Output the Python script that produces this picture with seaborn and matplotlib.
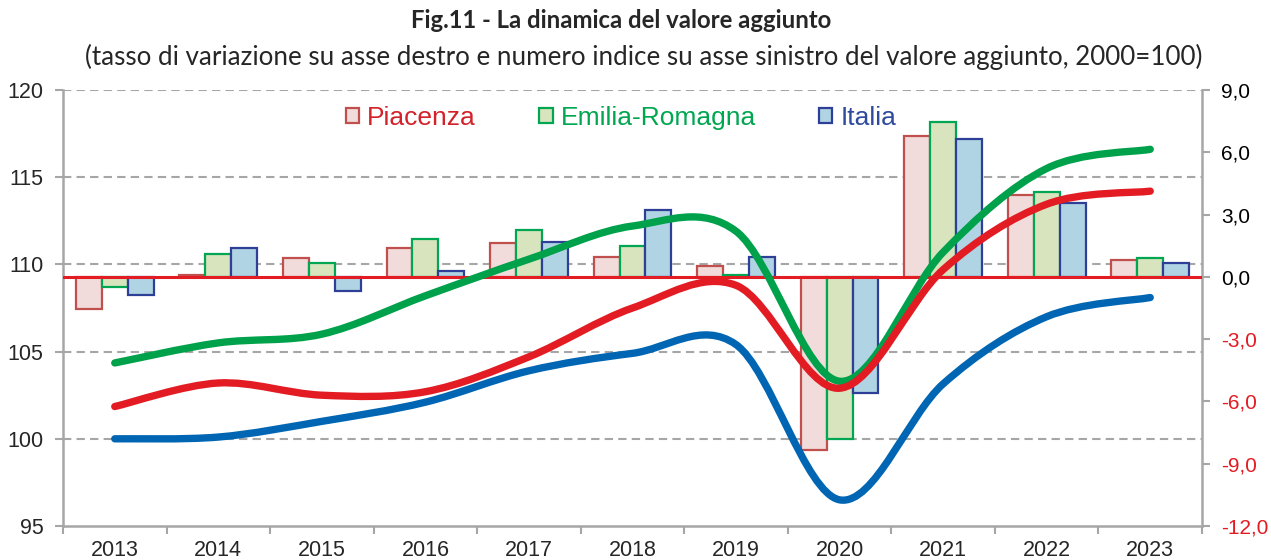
import numpy as np
import pandas as pd
import matplotlib
matplotlib.use('Agg')
import matplotlib.pyplot as plt
from matplotlib.path import Path
from matplotlib.patches import PathPatch, Patch
import seaborn as sns

anni = ['2013', '2014', '2015', '2016', '2017', '2018', '2019', '2020', '2021', '2022', '2023']
aree = ['Piacenza', 'Emilia-Romagna', 'Italia']

# tasso di variazione % (asse destro, barre)
var_piacenza = [-1.57, 0.10, 0.90, 1.40, 1.64, 0.96, 0.51, -8.35, 6.80, 3.92, 0.82]
var_emilia = [-0.47, 1.09, 0.66, 1.80, 2.28, 1.47, 0.10, -7.79, 7.48, 4.08, 0.93]
var_italia = [-0.87, 1.38, -0.70, 0.27, 1.70, 3.24, 0.94, -5.59, 6.63, 3.58, 0.69]

# numero indice 2000=100 (asse sinistro, linee)
ind_piacenza = [101.85, 103.2, 102.5, 102.7, 104.7, 107.5, 108.8, 102.9, 109.7, 113.45, 114.2]
ind_emilia = [104.35, 105.5, 106.0, 108.2, 110.3, 112.2, 111.9, 103.3, 110.7, 115.5, 116.6]
ind_italia = [100.0, 100.1, 101.0, 102.1, 103.9, 104.9, 105.4, 96.5, 103.15, 107.0, 108.1]

riempimento = ['#F2DCDB', '#D7E4BD', '#B0D4E3']
bordo = ['#C0504D', '#00A651', '#2E3F98']
linee = ['#E31B23', '#00A14B', '#0066B3']
testo_leg = ['#D2232A', '#00A650', '#2E4A9C']
grigio = '#A6A6A6'


def curva(ax, ys, colore):
    # linea smussata tipo Excel (Bezier passante per i punti)
    pts = np.column_stack([np.arange(len(ys)), ys]).astype(float)
    ext = np.vstack([pts[0], pts, pts[-1]])
    verts = [pts[0]]
    codes = [Path.MOVETO]
    for i in range(len(pts) - 1):
        p0, p1, p2, p3 = ext[i], ext[i + 1], ext[i + 2], ext[i + 3]
        verts += [p1 + (p2 - p0) / 6, p2 - (p3 - p1) / 6, p2]
        codes += [Path.CURVE4] * 3
    ax.add_patch(PathPatch(Path(verts, codes), facecolor='none', edgecolor=colore,
                           lw=5.3, capstyle='round', joinstyle='round', zorder=3))


sns.set_theme(style='white')
plt.rcParams['font.family'] = ['Liberation Sans', 'DejaVu Sans']

fig = plt.figure(figsize=(12.71, 5.60), dpi=100)
ax = fig.add_axes([63 / 1271, 34 / 560, 1139 / 1271, 436 / 560])

df = pd.DataFrame({
    'anno': anni * 3,
    'area': np.repeat(aree, len(anni)),
    'tasso': var_piacenza + var_emilia + var_italia,
})
sns.barplot(data=df, x='anno', y='tasso', hue='area', hue_order=aree, palette=riempimento,
            width=0.75, saturation=1, errorbar=None, legend=False, linewidth=1.6, ax=ax, zorder=2)
for cont, ec in zip(ax.containers, bordo):
    for barra in cont:
        barra.set_edgecolor(ec)

ax.set_xlim(-0.5, len(anni) - 0.5)
ax.set_ylim(-12, 9)
ax.axhline(0, color=linee[0], lw=2.2, zorder=3)

# asse sinistro per i numeri indice
ax2 = ax.twinx()
ax2.set_ylim(95, 120)
sx_ticks = np.arange(95, 121, 5)

# griglia tratteggiata riferita all'asse sinistro, dietro alle barre
lo, hi = ax.get_ylim()
for v in sx_ticks[1:]:
    r = lo + (v - 95) / 25 * (hi - lo)
    ax.axhline(r, color=grigio, lw=1.5, ls=(0, (4, 2.5)), zorder=1)

curva(ax2, ind_italia, linee[2])
curva(ax2, ind_emilia, linee[1])
curva(ax2, ind_piacenza, linee[0])

# assi
ax.yaxis.tick_right()
dx_ticks = np.arange(-12, 9.1, 3)
ax.set_yticks(dx_ticks)
etich = ax.set_yticklabels([f'{v:.1f}'.replace('.', ',') for v in dx_ticks])
for v, t in zip(dx_ticks, etich):
    t.set_color('black' if v >= 0 else '#E31B23')
ax.tick_params(axis='y', which='major', direction='out', length=6, width=1.5,
               color=grigio, labelsize=15, pad=8, right=True, left=False)

ax2.yaxis.tick_left()
ax2.set_yticks(sx_ticks)
ax2.set_yticklabels([str(v) for v in sx_ticks])
ax2.tick_params(axis='y', direction='out', length=6, width=1.5, color=grigio,
                labelsize=15.5, pad=8, left=True, right=False)

ax.set_xticks(range(len(anni)))
ax.set_xticklabels(anni)
ax.set_xticks(np.arange(-0.5, len(anni), 1), minor=True)
ax.tick_params(axis='x', which='major', length=0, labelsize=15.5, pad=10)
ax.tick_params(axis='x', which='minor', direction='out', length=6, width=1.5, color=grigio, bottom=True)
ax.set_xlabel('')
ax.set_ylabel('')
ax2.set_ylabel('')

for nome, sp in ax.spines.items():
    sp.set_color(grigio)
    sp.set_linewidth(1.8)
ax.spines['top'].set_visible(False)
for sp in ax2.spines.values():
    sp.set_visible(False)

handles = [Patch(facecolor=f, edgecolor=e, lw=1.6) for f, e in zip(riempimento, bordo)]
leg = ax2.legend(handles, aree, ncol=3, loc='center', bbox_to_anchor=(0.49, 0.936),
                 frameon=False, fontsize=19, handlelength=0.5, handleheight=0.5,
                 handletextpad=0.3, columnspacing=2.4, borderaxespad=0)
for t, c in zip(leg.get_texts(), testo_leg):
    t.set_color(c)

fig.text(621 / 1271, 1 - 20 / 560, 'Fig.11 - La dinamica del valore aggiunto',
         ha='center', va='center', fontsize=17.2, fontweight='bold', family=['Lato', 'DejaVu Sans'])
fig.text(644 / 1271, 1 - 57 / 560,
         '(tasso di variazione su asse destro e numero indice su asse sinistro del valore aggiunto, 2000=100)',
         ha='center', va='center', fontsize=18.7, family=['Lato', 'DejaVu Sans'])

fig.savefig('out.png', dpi=100)
